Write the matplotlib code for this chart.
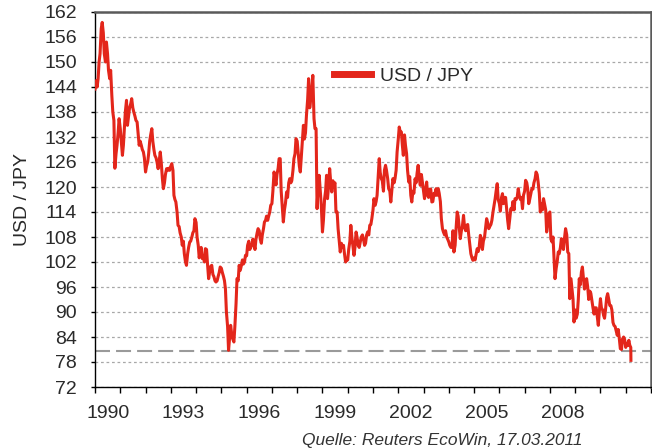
import numpy as np
import pandas as pd
import matplotlib
matplotlib.use("Agg")
import matplotlib.pyplot as plt
from matplotlib.lines import Line2D

plt.rcParams['font.family'] = ['Liberation Sans', 'DejaVu Sans']

# USD/JPY, Werte jeweils zum 1. und 15. eines Monats
usdjpy = [
    # 1990
    143.5, 145.5, 144, 146, 150, 152, 158, 159.5, 157, 152, 150, 154.8,
    152, 148, 146, 148, 142, 138, 136, 124.5, 128, 130, 133, 136.4,
    # 1991
    134, 131, 127.6, 130, 134, 138, 140.8, 134.8, 137, 139, 140, 141.2,
    139, 138, 137, 136, 135.6, 133, 130, 131, 130, 129, 128.4, 127,
    # 1992
    123.6, 125, 126, 128, 131, 132.5, 134, 131, 129, 127.6, 127, 126,
    124.4, 126, 128.4, 126, 122, 119.6, 121, 123, 124.4, 124, 124.5, 124,
    # 1993
    125, 125.6, 124, 118, 117, 116.4, 114, 110.8, 110.5, 109, 108, 106,
    107, 104, 102, 101.2, 104, 105.5, 106.8, 107, 108, 109, 109.5, 112.4,
    # 1994
    111.5, 108, 106, 103, 104.5, 105.5, 102.8, 103.5, 102, 105.2, 105, 101.5,
    98, 99.5, 101, 101.2, 99, 98.5, 97.5, 97.2, 97.5, 98.5, 99.5, 100.8,
    # 1995
    100.5, 99.5, 98.5, 97.5, 95.5, 90, 86.5, 80.8, 84, 86.8, 84.5, 83.5,
    82.8, 86.5, 92, 98, 97.5, 101.2, 100, 101, 102.5, 101.5, 102, 103.6,
    # 1996
    103.5, 106, 107, 105, 105.5, 106, 107.5, 106.5, 105, 107.5, 109, 110,
    109.5, 107.6, 106.5, 108.5, 110, 111.6, 112, 113, 112, 113, 114, 115.6,
    # 1997
    116, 119, 123.6, 122, 120.5, 123, 124.5, 126.8, 126.8, 119, 114.8, 111.6,
    114.5, 116, 118.8, 117.5, 121, 122, 121, 121.5, 124, 126.8, 128, 131.6,
    # 1998
    131, 128.4, 125, 123.6, 127, 130.5, 134.8, 131.5, 133, 137.2, 141, 146,
    139, 141, 144, 146.8, 136.4, 134, 134, 114.8, 121.5, 122.8, 119, 115.6,
    # 1999
    109.2, 112, 117.2, 119, 122.8, 117.2, 120.5, 124.4, 121, 118.8, 121.5, 120.4,
    121, 114, 114, 110, 107, 104.4, 106.5, 105.5, 106, 104, 102, 102.5,
    # 2000
    102.5, 105, 107, 110.8, 108, 106, 103.6, 105.5, 109.2, 108, 106, 105.5,
    106.8, 108, 108.5, 107.6, 106, 106.5, 108.5, 109.2, 108.5, 110.8, 111, 112.4,
    # 2001
    114.5, 117.2, 115.6, 116.5, 118, 122, 126.8, 123.5, 122, 121.5, 119, 124,
    125.2, 124, 122, 119.6, 119, 116.4, 119.5, 122, 121, 122, 124, 128.4,
    # 2002
    131.5, 134.4, 133, 133.2, 130, 127.6, 132.5, 130, 128, 124, 121.2, 122.5,
    118, 116.4, 119, 118.5, 122, 121, 123.5, 125.2, 122, 120.4, 123, 121.2,
    # 2003
    119, 117.2, 119.5, 121.2, 118, 117.5, 119.5, 119.5, 116.4, 116.5, 118.5, 118,
    119.6, 118, 119.6, 118.5, 116.5, 112.4, 110, 109.2, 108.5, 109.5, 108, 107.5,
    # 2004
    106.8, 106, 105.5, 105.5, 109.5, 104.4, 106, 110, 114, 113, 110, 107.6,
    109.5, 110.5, 113.2, 110.5, 109.5, 110.8, 111, 108.5, 106, 104, 103, 102.4,
    # 2005
    103, 102.5, 104, 105.2, 104.5, 105.5, 108.4, 107.6, 105, 107, 108, 110,
    112.4, 111.5, 110, 110.5, 111, 112, 114, 115.5, 117.2, 119, 120.8, 117,
    # 2006
    116, 114.2, 117.5, 118.4, 116, 117.5, 117.5, 115, 112, 110, 112.5, 114.8,
    114.5, 116.5, 114.5, 117.2, 117, 117.5, 119.6, 118, 117, 117.5, 114.8, 118,
    # 2007
    119, 121.6, 121, 119.5, 116, 117, 118.5, 119.6, 119.5, 121, 122, 123.6,
    123, 121.2, 118.5, 114, 116, 114.5, 117.2, 116, 114.5, 109.2, 111, 113.5,
    # 2008
    114, 107.5, 106.8, 108, 103, 98, 100.5, 102, 104.4, 104, 105.5, 107.6,
    106, 105, 108, 110, 108.5, 104.4, 104, 93.2, 98, 95.6, 93, 87.6,
    # 2009
    90.5, 88.5, 89.5, 93, 98, 96.5, 99.6, 100.8, 98, 95.5, 96.4, 98,
    96, 93, 95, 94.5, 92.5, 91, 89.5, 91, 91, 89, 86.8, 90,
    # 2010
    93.2, 91, 90.5, 89.2, 88.5, 90.5, 93.5, 94.4, 93, 91.6, 91.5, 90.5,
    87.5, 86.8, 86.5, 85.5, 84.4, 85.8, 83.5, 81.2, 81, 83.5, 84, 83.5,
    # 2011
    81.5, 82.5, 82, 83.2, 82, 81.5, 78.4,
]
dates = list(pd.date_range('1990-01-01', '2011-03-15', freq='SMS')) + [pd.Timestamp('2011-03-17')]

y_ticks = list(range(72, 163, 6))
label_years = [1990, 1993, 1996, 1999, 2002, 2005, 2008]
low_1995 = 80.6

x = np.array([d.year + (d.dayofyear - 1) / (366 if d.is_leap_year else 365) for d in dates])
y = np.array(usdjpy)

red = '#e3261b'
fig = plt.figure(figsize=(6.52, 4.48), dpi=100)
ax = fig.add_axes([95 / 652, 1 - 387 / 448, 556 / 652, 375 / 448])

ax.plot(x, y, color=red, lw=2.2, solid_joinstyle='round', zorder=3)
ax.axhline(low_1995, color='#9a9a9a', lw=1.5, dashes=(7.2, 2.9), zorder=2)

ax.set_xlim(1990, 2012)
ax.set_ylim(72, 162)
ax.set_yticks(y_ticks)
ax.grid(axis='y', color='#a8a8a8', lw=0.9, linestyle=(0, (2.2, 2.2)), zorder=1)

ax.set_xticks([yr + 0.5 for yr in label_years], labels=[str(yr) for yr in label_years])
ax.set_xticks(np.arange(1990, 2013), minor=True)
ax.tick_params(axis='x', which='major', length=0, pad=13, labelsize=14, labelcolor='#2a2a2a')
ax.tick_params(axis='x', which='minor', length=4, width=1, direction='out', color='black')
ax.tick_params(axis='y', length=3, width=1, pad=10, labelsize=14, labelcolor='#2a2a2a')

for side in ['left', 'bottom']:
    ax.spines[side].set_color('black')
    ax.spines[side].set_linewidth(1.0)
for side in ['top', 'right']:
    ax.spines[side].set_color('#5a5a5a')
    ax.spines[side].set_linewidth(1.8)

fig.text(23 / 652, 1 - 200 / 448, 'USD / JPY', rotation=90, ha='center', va='center',
         fontsize=14, color='#2a2a2a')

handle = Line2D([], [], color=red, lw=5)
ax.legend([handle], ['USD / JPY'], loc='center left', bbox_to_anchor=((334 - 95) / 556, 1 - (76 - 12) / 375),
          frameon=False, borderpad=0, borderaxespad=0, handlelength=1.9, handletextpad=0.45,
          fontsize=14, labelcolor='#2a2a2a')

fig.text(583 / 652, 1 - 445 / 448, 'Quelle: Reuters EcoWin, 17.03.2011', ha='right', va='baseline',
         fontsize=12.5, style='italic', color='#333333')

fig.savefig('out.png', dpi=100)
